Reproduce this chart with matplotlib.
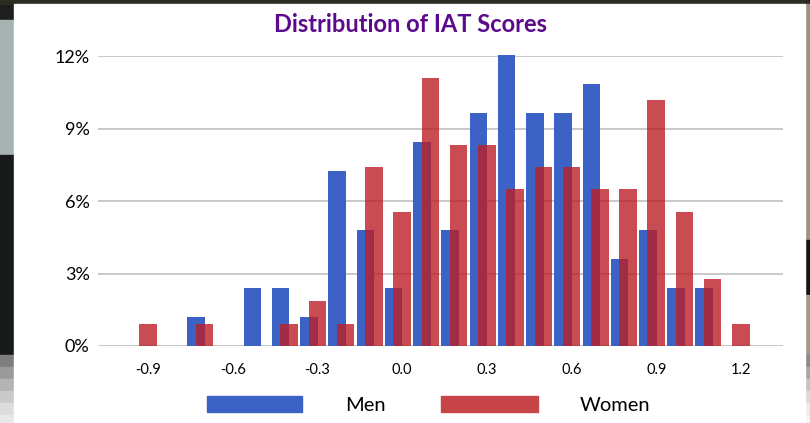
import matplotlib
matplotlib.use("Agg")
import matplotlib.pyplot as plt
from matplotlib.patches import Rectangle
import numpy as np

# IAT score bins and share of participants (%) in each bin
bins = [-0.9, -0.8, -0.7, -0.6, -0.5, -0.4, -0.3, -0.2, -0.1, 0.0, 0.1,
        0.2, 0.3, 0.4, 0.5, 0.6, 0.7, 0.8, 0.9, 1.0, 1.1, 1.2]
men = [0, 0, 1.20, 0, 2.41, 2.41, 1.20, 7.23, 4.82, 2.41, 8.43,
       4.82, 9.64, 12.05, 9.64, 9.64, 10.84, 3.61, 4.82, 2.41, 2.41, 0]
women = [0.93, 0, 0.93, 0, 0, 0.93, 1.85, 0.93, 7.41, 5.56, 11.11,
         8.33, 8.33, 6.48, 7.41, 7.41, 6.48, 6.48, 10.19, 5.56, 2.78, 0.93]
tick_vals = [-0.9, -0.6, -0.3, 0.0, 0.3, 0.6, 0.9, 1.2]
y_ticks = [0, 3, 6, 9, 12]

W, H = 810, 423
BLUE = "#3b62c4"
RED = "#bb1f25"

fig = plt.figure(figsize=(W / 100, H / 100), dpi=100)
fig.patch.set_facecolor("#1c1f1e")


def px_rect(x0, y0, x1, y1, color, z=-10):
    # rectangle given in pixel coordinates from the top-left corner
    r = Rectangle((x0 / W, 1 - y1 / H), (x1 - x0) / W, (y1 - y0) / H,
                  transform=fig.transFigure, color=color, zorder=z)
    fig.patches.append(r)
    return r


# photo strips around the slide panel
px_rect(0, 0, W, 4, "#2b2b20")
px_rect(0, 20, 14, 155, "#a7b3b2")
px_rect(0, 155, 14, 355, "#161a1a")
for i, c in enumerate(["#7e7e7e", "#9a9a9a", "#b4b4b4", "#cacaca", "#dcdcdc", "#e8e8e8"]):
    px_rect(0, 355 + i * 12, 14, 367 + i * 12, c)
px_rect(805, 4, W, 240, "#9a9282")
px_rect(805, 240, W, 295, "#161616")
px_rect(805, 295, W, 355, "#a09a8c")
for i, c in enumerate(["#8a8a8a", "#a8a8a8", "#c4c4c4", "#dadada", "#ececec", "#f4f4f4"]):
    px_rect(805, 355 + i * 12, W, 367 + i * 12, c)
# white chart panel
px_rect(14, 4, 805, H, "white", z=-9)

ax = fig.add_axes([98 / W, 1 - 346 / H, (783 - 98) / W, (346 - 56) / H])
ax.set_facecolor("none")

x = np.array(bins)
bar_w = 0.062
ax.bar(x - 0.03, men, bar_w, color=BLUE, zorder=3, clip_on=False)
ax.bar(x, women, bar_w, color=RED, alpha=0.8, zorder=4, clip_on=False)

ax.set_xlim(-1.077, 1.349)
ax.set_ylim(0, 12)
ax.set_yticks(y_ticks)
ax.set_yticklabels([f"{v}%" for v in y_ticks], fontsize=13, family="Lato")
ax.set_xticks(tick_vals)
ax.set_xticklabels([f"{v:.1f}" for v in tick_vals], fontsize=10.5, family="Lato")
ax.tick_params(length=0, pad=6)
ax.tick_params(axis="x", pad=12)
ax.yaxis.grid(True, color="#c9c9c9", lw=1.4, zorder=0)
for s in ax.spines.values():
    s.set_visible(False)

fig.text(410 / W, 1 - 24 / H, "Distribution of IAT Scores", ha="center", va="center",
         fontsize=17, fontweight="bold", color="#5c0a8c", family="Lato")

# legend
px_rect(207, 396, 302, 412, BLUE, z=5)
px_rect(441, 396, 538, 412, "#c74449", z=5)
fig.text(345 / W, 1 - 405 / H, "Men", ha="left", va="center", fontsize=14.5, family="Lato")
fig.text(580 / W, 1 - 405 / H, "Women", ha="left", va="center", fontsize=14.5, family="Lato")

fig.savefig("out.png", dpi=100)
